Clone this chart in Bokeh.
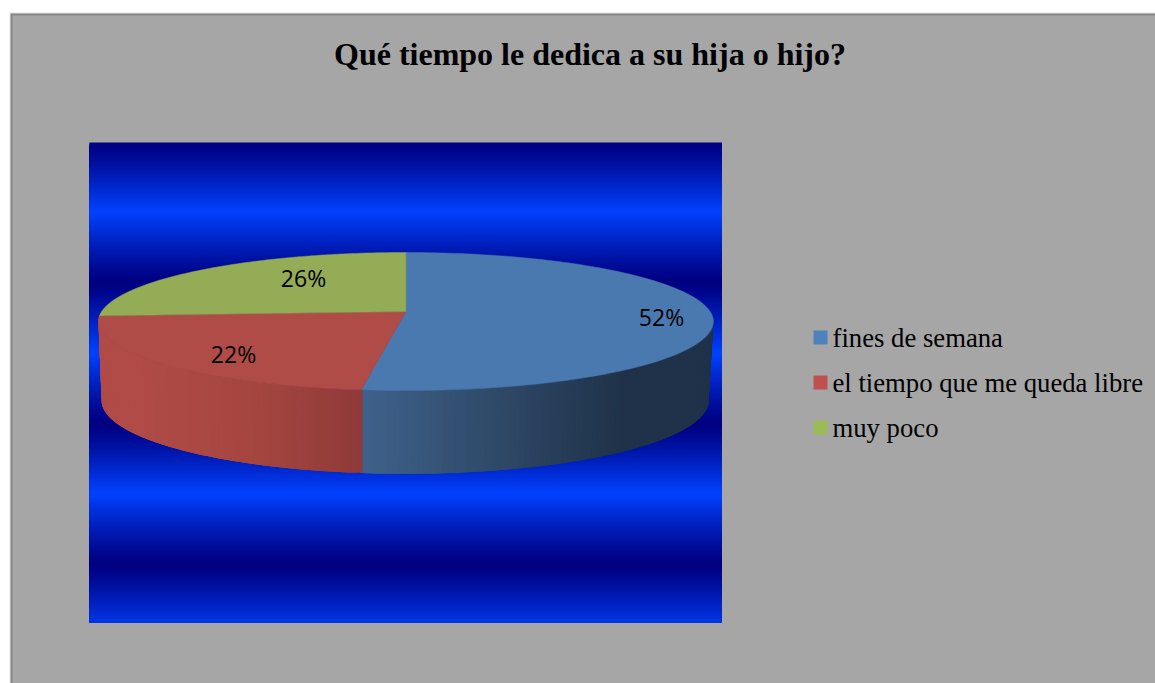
import numpy as np
from bokeh.plotting import figure
from bokeh.models import Range1d
from bokeh.core.properties import value
from bokeh.embed import file_html
from bokeh.resources import INLINE

TITLE = "Qué tiempo le dedica a su hija o hijo?"
categories = ["fines de semana", "el tiempo que me queda libre", "muy poco"]
percent = [52, 22, 26]
labels = ["52%", "22%", "26%"]
top_colors = ["#4a79b0", "#b04c47", "#93ac55"]
legend_colors = ["#4f81bd", "#c0504d", "#9bbb59"]

p = figure(width=1155, height=683, output_backend="svg", toolbar_location=None,
           x_range=Range1d(0, 1155), y_range=Range1d(683, 0),
           min_border=0, outline_line_color=None,
           background_fill_color="white", border_fill_color="white")
p.axis.visible = False
p.grid.visible = False


def band(x0, y0, x1, y1, color):
    p.quad(left=[x0], right=[x1], top=[y0], bottom=[y1], fill_color=color, line_color=None)


# Panel and its border
band(9, 12, 1155, 683, "#e4e4e4")
band(10, 13, 1155, 683, "#868686")
band(12, 15, 1155, 683, "#a6a6a6")

# Banded blue plot-area background: rows overlap downward so no seam shows
PX0, PX1, PY0, PY1 = 89, 721.5, 142, 622.5
stop_y = [142, 211, 282, 352, 423, 493, 564, 634]
stop_t = [0, 1, 0, 1, 0, 1, 0, 1]
rows = np.arange(PY0, 622)
t = np.interp(rows + 0.5, stop_y, stop_t) ** 1.15
dark, bright = np.array([0, 0, 128]), np.array([0, 66, 255])
cols = ["#%02x%02x%02x" % tuple(int(c) for c in dark + (bright - dark) * a) for a in t]
p.quad(left=PX0, right=PX1, top=rows, bottom=PY1, fill_color=cols, line_color=None)

# Perspective pie
K = 0.145


def project(turn, cx, cy, R, H):
    """Clockwise turn from 12 o'clock (radians) to page position under perspective."""
    u, v = np.sin(turn), np.cos(turn)
    s = 1 / (1 + K * v)
    return cx + R * u * s, cy - H * v * s


TOP = (405.4, 311.0, 304.2, 67.55)
BOT = (404.6, 389.4, 300.3, 71.7)
edges = np.cumsum([0] + percent) / sum(percent) * 2 * np.pi

# Wall strips, shaded by page position; each overlaps the next so no seam shows
red_x = [100, 140, 250, 360]
red_r = [(0xb0, 0x4c, 0x47), (0xb0, 0x4b, 0x47), (0xa6, 0x46, 0x40), (0x8e, 0x3a, 0x39)]
blue_x = [361, 500, 620, 715]
blue_r = [(0x3f, 0x61, 0x8a), (0x2e, 0x48, 0x66), (0x1f, 0x32, 0x49), (0x1f, 0x32, 0x49)]
STEP = np.radians(1.0)
turns = np.arange(np.radians(90), np.radians(270), STEP)
for a in turns:
    is_blue = a + STEP / 2 < edges[1]
    b = a + 3 * STEP
    if is_blue:
        b = min(b, edges[1])
    arc = np.linspace(a, b, 5)
    xa, ya = project(arc, *TOP)
    xb, yb = project(arc[::-1], *BOT)
    mx = (xa.mean() + xb.mean()) / 2
    ramp_x, ramp = (blue_x, blue_r) if is_blue else (red_x, red_r)
    rgb = [np.interp(mx, ramp_x, [c[i] for c in ramp]) for i in range(3)]
    col = "#%02x%02x%02x" % tuple(int(c) for c in rgb)
    p.patch(np.r_[xa, xb], np.r_[ya, yb], fill_color=col, line_color=None)

# Top faces
for i in range(3):
    arc = np.linspace(edges[i], edges[i + 1], 160)
    ax, ay = project(arc, *TOP)
    p.patch(np.r_[TOP[0], ax], np.r_[TOP[1], ay], fill_color=top_colors[i],
            line_color=top_colors[i], line_width=0.5)

# Value labels
label_x = [661, 233, 303]
label_y = [316, 353, 277]
p.text(label_x, label_y, text=labels, text_font=value("Open Sans"), text_font_size="23px",
       text_color="#000000", text_align="center", text_baseline="middle")

# Title
p.text([589.5], [53], text=[TITLE], text_font=value("Liberation Serif"), text_font_size="32px",
       text_font_style="bold", text_color="#000000", text_align="center", text_baseline="middle")

# Legend
square_top = [330, 375, 420]
for name, col, y in zip(categories, legend_colors, square_top):
    band(813, y, 827, y + 14, col)
    p.text([832], [y + 7], text=[name], text_font=value("Liberation Serif"), text_font_size="26.7px",
           text_color="#000000", text_align="left", text_baseline="alphabetic")

open("out.html", "w").write(file_html(p, INLINE))
